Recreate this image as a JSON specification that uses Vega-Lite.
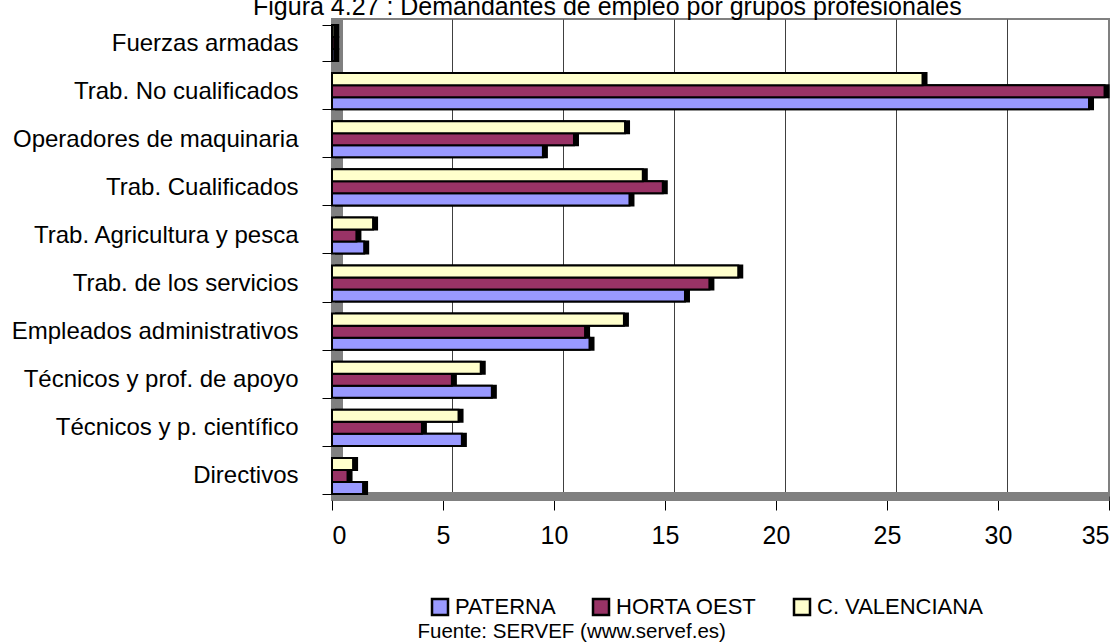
{
  "$schema": "https://vega.github.io/schema/vega-lite/v6.json",
  "autosize": "none",
  "width": 777,
  "height": 481,
  "padding": {"left": 332, "top": 19, "right": 10, "bottom": 142},
  "background": "white",
  "config": {
    "font": "Liberation Sans",
    "view": {"stroke": "#808080", "strokeWidth": 2}
  },
  "title": {
    "text": "Figura 4.27 : Demandantes de empleo por grupos profesionales",
    "anchor": "start",
    "frame": "group",
    "dx": -79,
    "offset": -13,
    "fontSize": 25,
    "fontWeight": "normal",
    "color": "black"
  },
  "data": {
    "values": [
      {"grupo": "Fuerzas armadas", "serie": "PATERNA", "valor": 0.1},
      {"grupo": "Fuerzas armadas", "serie": "HORTA OEST", "valor": 0.1},
      {"grupo": "Fuerzas armadas", "serie": "C. VALENCIANA", "valor": 0.1},
      {"grupo": "Trab. No cualificados", "serie": "PATERNA", "valor": 34.1},
      {"grupo": "Trab. No cualificados", "serie": "HORTA OEST", "valor": 34.8},
      {"grupo": "Trab. No cualificados", "serie": "C. VALENCIANA", "valor": 26.6},
      {"grupo": "Operadores de maquinaria", "serie": "PATERNA", "valor": 9.5},
      {"grupo": "Operadores de maquinaria", "serie": "HORTA OEST", "valor": 10.9},
      {"grupo": "Operadores de maquinaria", "serie": "C. VALENCIANA", "valor": 13.2},
      {"grupo": "Trab. Cualificados", "serie": "PATERNA", "valor": 13.4},
      {"grupo": "Trab. Cualificados", "serie": "HORTA OEST", "valor": 14.9},
      {"grupo": "Trab. Cualificados", "serie": "C. VALENCIANA", "valor": 14.0},
      {"grupo": "Trab. Agricultura y pesca", "serie": "PATERNA", "valor": 1.45},
      {"grupo": "Trab. Agricultura y pesca", "serie": "HORTA OEST", "valor": 1.1},
      {"grupo": "Trab. Agricultura y pesca", "serie": "C. VALENCIANA", "valor": 1.85},
      {"grupo": "Trab. de los servicios", "serie": "PATERNA", "valor": 15.9},
      {"grupo": "Trab. de los servicios", "serie": "HORTA OEST", "valor": 17.0},
      {"grupo": "Trab. de los servicios", "serie": "C. VALENCIANA", "valor": 18.3},
      {"grupo": "Empleados administrativos", "serie": "PATERNA", "valor": 11.6},
      {"grupo": "Empleados administrativos", "serie": "HORTA OEST", "valor": 11.4},
      {"grupo": "Empleados administrativos", "serie": "C. VALENCIANA", "valor": 13.15},
      {"grupo": "Técnicos y prof. de apoyo", "serie": "PATERNA", "valor": 7.2},
      {"grupo": "Técnicos y prof. de apoyo", "serie": "HORTA OEST", "valor": 5.4},
      {"grupo": "Técnicos y prof. de apoyo", "serie": "C. VALENCIANA", "valor": 6.7},
      {"grupo": "Técnicos y p. científico", "serie": "PATERNA", "valor": 5.85},
      {"grupo": "Técnicos y p. científico", "serie": "HORTA OEST", "valor": 4.05},
      {"grupo": "Técnicos y p. científico", "serie": "C. VALENCIANA", "valor": 5.7},
      {"grupo": "Directivos", "serie": "PATERNA", "valor": 1.4},
      {"grupo": "Directivos", "serie": "HORTA OEST", "valor": 0.7},
      {"grupo": "Directivos", "serie": "C. VALENCIANA", "valor": 0.95}
    ]
  },
  "encoding": {
    "y": {
      "field": "grupo",
      "type": "nominal",
      "sort": ["Fuerzas armadas", "Trab. No cualificados", "Operadores de maquinaria", "Trab. Cualificados", "Trab. Agricultura y pesca", "Trab. de los servicios", "Empleados administrativos", "Técnicos y prof. de apoyo", "Técnicos y p. científico", "Directivos"],
      "scale": {"paddingInner": 0.25, "paddingOuter": 0.125},
      "axis": {
        "title": null,
        "offset": -5,
        "domainColor": "#808080",
        "domainWidth": 11,
        "tickColor": "black",
        "tickSize": 15,
        "tickBand": "extent",
        "labelFontSize": 24,
        "labelColor": "black",
        "labelPadding": 24,
        "labelLimit": 400
      }
    },
    "yOffset": {
      "field": "serie",
      "type": "nominal",
      "sort": ["C. VALENCIANA", "HORTA OEST", "PATERNA"]
    }
  },
  "layer": [
    {
      "mark": {"type": "bar", "opacity": 0},
      "encoding": {
        "x": {
          "field": "valor",
          "type": "quantitative",
          "scale": {"domain": [-0.4, 34.6], "nice": false, "zero": false},
          "axis": {
            "orient": "top",
            "values": [5, 10, 15, 20, 25, 30],
            "grid": true,
            "gridColor": "#404040",
            "gridWidth": 1,
            "labels": false,
            "ticks": false,
            "domain": false,
            "title": null
          }
        }
      }
    },
    {
      "mark": {"type": "bar", "color": "black", "stroke": "black", "strokeWidth": 2, "xOffset": 4, "yOffset": -4},
      "encoding": {
        "x": {
          "field": "valor",
          "type": "quantitative",
          "scale": {"domain": [0, 35], "nice": false},
          "axis": null
        }
      }
    },
    {
      "mark": {"type": "bar", "stroke": "black", "strokeWidth": 2},
      "encoding": {
        "x": {
          "field": "valor",
          "type": "quantitative",
          "scale": {"domain": [0, 35], "nice": false},
          "axis": {
            "orient": "bottom",
            "values": [0, 5, 10, 15, 20, 25, 30, 35],
            "grid": false,
            "offset": -4,
            "domainColor": "#808080",
            "domainWidth": 9,
            "tickColor": "black",
            "tickSize": 14,
            "tickWidth": 1,
            "labelFontSize": 25,
            "labelColor": "black",
            "labelPadding": 13,
            "title": "Fuente: SERVEF (www.servef.es)",
            "titleX": 85,
            "titleY": 135,
            "titleAlign": "left",
            "titleAnchor": null,
            "titleBaseline": "middle",
            "titleFontSize": 20.5,
            "titleFontWeight": "normal",
            "titleColor": "black"
          }
        },
        "color": {
          "field": "serie",
          "type": "nominal",
          "scale": {"domain": ["PATERNA", "HORTA OEST", "C. VALENCIANA"], "range": ["#9999FF", "#993366", "#FFFFCC"]},
          "legend": {
            "orient": "none",
            "legendX": 97,
            "legendY": 577,
            "direction": "horizontal",
            "title": null,
            "symbolType": "square",
            "symbolSize": 256,
            "symbolStrokeColor": "black",
            "symbolStrokeWidth": 2.5,
            "symbolOpacity": 1,
            "labelFontSize": 22,
            "labelColor": "black",
            "labelOffset": 4,
            "labelLimit": 400,
            "columnPadding": 32
          }
        }
      }
    }
  ],
  "resolve": {"scale": {"x": "independent"}, "axis": {"x": "independent"}}
}
